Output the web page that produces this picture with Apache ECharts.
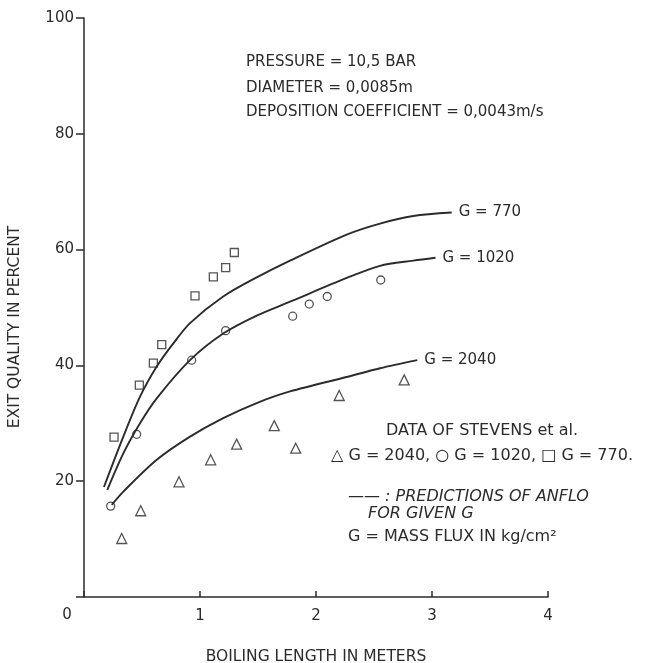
<!DOCTYPE html>
<html>
<head>
<meta charset="utf-8">
<script src="https://cdn.jsdelivr.net/npm/echarts@6/dist/echarts.min.js"></script>
<style>
html,body{margin:0;padding:0;background:#fff;}
#chart{width:648px;height:663px;}
</style>
</head>
<body>
<div id="chart"></div>
<script>
// ---- Data ----
// Predicted curves (ANFLO), [boiling length m, exit quality %]
const curve770 = [[0.172,19.0],[0.339,27.7],[0.483,34.6],[0.627,39.8],[0.770,43.8],[0.914,47.3],[1.20,51.9],[1.489,55.2],[1.776,58.1],[2.265,62.6],[2.552,64.5],[2.839,65.8],[3.17,66.4]];
const curve1020 = [[0.201,18.5],[0.339,24.8],[0.483,30.0],[0.627,34.3],[0.914,40.9],[1.20,45.5],[1.489,48.6],[1.776,51.0],[2.265,55.1],[2.552,57.2],[2.839,58.1],[3.03,58.6]];
const curve2040 = [[0.239,15.9],[0.339,18.2],[0.627,23.7],[0.914,27.7],[1.20,30.9],[1.489,33.5],[1.776,35.5],[2.265,38.0],[2.552,39.5],[2.873,40.9]];
// Measured data of Stevens et al.
const data770 = [[0.259,27.6],[0.477,36.6],[0.598,40.4],[0.67,43.6],[0.957,52.0],[1.115,55.3],[1.221,56.9],[1.296,59.5]];
const data1020 = [[0.23,15.7],[0.454,28.1],[0.928,40.9],[1.221,46.0],[1.799,48.5],[1.942,50.6],[2.097,51.9],[2.558,54.75]];
const data2040 = [[0.325,10.1],[0.489,14.9],[0.819,19.9],[1.092,23.7],[1.316,26.4],[1.64,29.6],[1.825,25.7],[2.20,34.8],[2.76,37.5]];
const curveNames = ['G = 770','G = 1020','G = 2040'];
const xTicks = [0,1,2,3,4];
const yTicks = [0,20,40,60,80,100];

// ---- Chart ----
const INK = '#2b2b2b';
const FONT = 'DejaVu Sans';
const chart = echarts.init(document.getElementById('chart'), null, {renderer:'canvas'});

function curveSeries(data, name){
  return {
    type:'line', data:data, smooth:0.3, showSymbol:false, silent:true,
    lineStyle:{color:INK, width:1.9},
    endLabel:{show:true, formatter:name, color:INK, fontFamily:FONT, fontSize:15, distance:7}
  };
}
function dataSeries(data, symbol, size){
  return {
    type:'scatter', data:data, symbol:symbol, symbolSize:size, silent:true,
    itemStyle:{color:'#fff', borderColor:INK, borderWidth:1.3}
  };
}

const option = {
  animation:false,
  backgroundColor:'#fff',
  grid:{left:84, right:100, top:18, bottom:66, outerBoundsMode:'none', containLabel:false},
  xAxis:{
    type:'value', min:xTicks[0], max:xTicks[xTicks.length-1], interval:1,
    name:'BOILING LENGTH IN METERS', nameLocation:'middle', nameGap:52,
    nameTextStyle:{color:INK, fontFamily:FONT, fontSize:15.5},
    axisLine:{lineStyle:{color:INK, width:1.5}},
    axisTick:{inside:true, length:6, lineStyle:{color:INK, width:1.5}},
    axisLabel:{color:INK, fontFamily:FONT, fontSize:15, margin:12,
      formatter:function(v){return v===0?'':String(v);}},
    splitLine:{show:false}
  },
  yAxis:{
    type:'value', min:yTicks[0], max:yTicks[yTicks.length-1], interval:20,
    axisLine:{show:true, lineStyle:{color:INK, width:1.5}},
    axisTick:{show:true, inside:false, length:8, lineStyle:{color:INK, width:1.5}},
    axisLabel:{color:INK, fontFamily:FONT, fontSize:15, margin:10,
      formatter:function(v){return v===0?'':String(v);}},
    splitLine:{show:false}
  },
  series:[
    curveSeries(curve770, curveNames[0]),
    curveSeries(curve1020, curveNames[1]),
    curveSeries(curve2040, curveNames[2]),
    dataSeries(data770, 'rect', 8),
    dataSeries(data1020, 'circle', 8),
    dataSeries(data2040, 'triangle', 10)
  ],
  graphic:[
    {type:'text', x:67, y:615, style:{text:'0', fill:INK, font:'15px "DejaVu Sans"', textAlign:'center', textVerticalAlign:'middle'}},
    {type:'text', x:15, y:327, rotation:Math.PI/2, style:{text:'EXIT QUALITY IN PERCENT', fill:INK, font:'15.5px "DejaVu Sans"', textAlign:'center', textVerticalAlign:'middle'}},
    {type:'text', x:246, y:62, style:{text:'PRESSURE = 10,5 BAR', fill:INK, font:'15px "DejaVu Sans"', textVerticalAlign:'middle'}},
    {type:'text', x:246, y:88, style:{text:'DIAMETER = 0,0085m', fill:INK, font:'15px "DejaVu Sans"', textVerticalAlign:'middle'}},
    {type:'text', x:246, y:112, style:{text:'DEPOSITION COEFFICIENT = 0,0043m/s', fill:INK, font:'15px "DejaVu Sans"', textVerticalAlign:'middle'}},
    {type:'text', x:482, y:431, style:{text:'DATA OF STEVENS et al.', fill:INK, font:'16px "DejaVu Sans"', textAlign:'center', textVerticalAlign:'middle'}},
    {type:'text', x:331, y:456, style:{text:'△ G = 2040, ○ G = 1020, □ G = 770.', fill:INK, font:'16px "DejaVu Sans"', textVerticalAlign:'middle'}},
    {type:'text', x:348, y:497, style:{text:'—— : PREDICTIONS OF ANFLO', fill:INK, font:'italic 16px "DejaVu Sans"', textVerticalAlign:'middle'}},
    {type:'text', x:368, y:514, style:{text:'FOR GIVEN G', fill:INK, font:'italic 16px "DejaVu Sans"', textVerticalAlign:'middle'}},
    {type:'text', x:348, y:537, style:{text:'G = MASS FLUX IN kg/cm²', fill:INK, font:'16px "DejaVu Sans"', textVerticalAlign:'middle'}}
  ]
};
chart.setOption(option);
</script>
</body>
</html>
